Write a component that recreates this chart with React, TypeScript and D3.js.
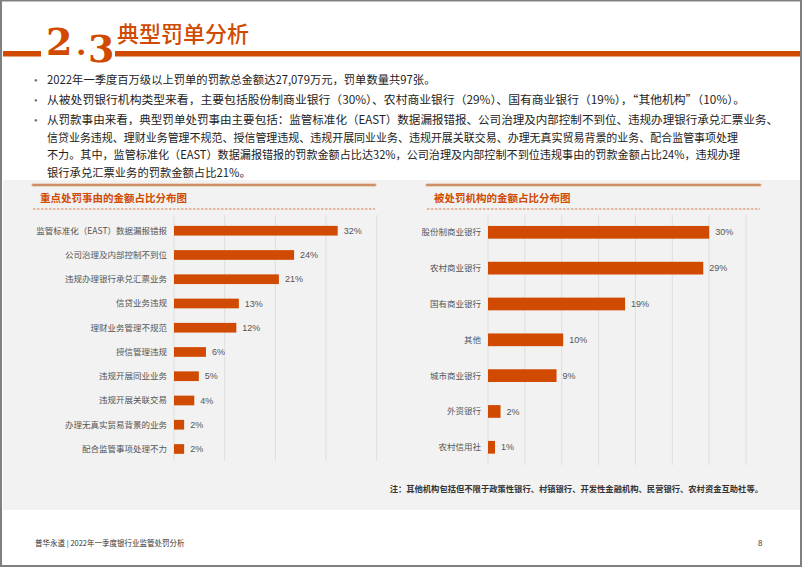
import React from "react";
import * as d3 from "d3";

const W = 802;
const H = 567;
const ORANGE = "#d04a02";
const CJK = "'Noto Sans CJK SC', 'Noto Sans', sans-serif";

// ---- data ----
const bullets = [
  ["2022年一季度百万级以上罚单的罚款总金额达27,079万元，罚单数量共97张。"],
  ["从被处罚银行机构类型来看，主要包括股份制商业银行（30%）、农村商业银行（29%）、国有商业银行（19%），“其他机构”（10%）。"],
  [
    "从罚款事由来看，典型罚单处罚事由主要包括：监管标准化（EAST）数据漏报错报、公司治理及内部控制不到位、违规办理银行承兑汇票业务、",
    "信贷业务违规、理财业务管理不规范、授信管理违规、违规开展同业业务、违规开展关联交易、办理无真实贸易背景的业务、配合监管事项处理",
    "不力。其中，监管标准化（EAST）数据漏报错报的罚款金额占比达32%，公司治理及内部控制不到位违规事由的罚款金额占比24%，违规办理",
    "银行承兑汇票业务的罚款金额占比21%。",
  ],
];
// end x of each wrapped line in the reference (null = natural width)
const lineEnds: (number | null)[][] = [[null], [745], [778, 738, 740, null]];

const reasonCategories = [
  "监管标准化（EAST）数据漏报错报",
  "公司治理及内部控制不到位",
  "违规办理银行承兑汇票业务",
  "信贷业务违规",
  "理财业务管理不规范",
  "授信管理违规",
  "违规开展同业业务",
  "违规开展关联交易",
  "办理无真实贸易背景的业务",
  "配合监管事项处理不力",
];
const reasonValues = [32.3, 23.7, 20.7, 12.8, 12.3, 6.3, 4.9, 4.0, 2.0, 2.0];
const reasonTicks = [0, 10, 20, 30, 40];

const instCategories = [
  "股份制商业银行",
  "农村商业银行",
  "国有商业银行",
  "其他",
  "城市商业银行",
  "外资银行",
  "农村信用社",
];
const instValues = [30.0, 29.2, 18.6, 10.2, 9.3, 1.7, 0.95];
const instTicks = [0, 5, 10, 15, 20, 25, 30, 35];

const leftTitle = "重点处罚事由的金额占比分布图";
const rightTitle = "被处罚机构的金额占比分布图";
const footnote = "注：其他机构包括但不限于政策性银行、村镇银行、开发性金融机构、民营银行、农村资金互助社等。";
const footerText = "普华永道 | 2022年一季度银行业监管处罚分析";
const pageNum = "8";

const pct = (v: number) => `${Math.round(v)}%`;

type ChartProps = {
  cats: string[];
  vals: number[];
  ticks: number[];
  x0: number;
  x1: number;
  y0: number;
  y1: number;
  gridTop: number;
  gridBottom: number;
  padding: number;
  title: string;
  headerX0: number;
  headerX1: number;
  titleX: number;
};

const HEADER_Y = 185;

function BarChart(p: ChartProps) {
  const x = d3.scaleLinear().domain([0, p.ticks[p.ticks.length - 1]]).range([p.x0, p.x1]);
  const y = d3
    .scaleBand<string>()
    .domain(p.cats)
    .range([p.y0, p.y1])
    .paddingInner(p.padding)
    .paddingOuter(p.padding / 2);
  return (
    <g>
      <line x1={p.headerX0} x2={p.headerX1} y1={HEADER_Y} y2={HEADER_Y} stroke="#e0b394" strokeWidth={3.2} strokeLinecap="round" />
      <line x1={p.headerX0} x2={p.headerX1} y1={HEADER_Y} y2={HEADER_Y} stroke="#c8835a" strokeWidth={1.3} strokeLinecap="round" />
      <text x={p.titleX} y={201.5} fill={ORANGE} fontSize={10.5} fontWeight="bold" fontFamily={CJK}>
        {p.title}
      </text>
      <line x1={p.headerX0} x2={p.headerX1} y1={209} y2={209} stroke="#e2773a" strokeWidth={1} strokeDasharray="2.5,1.5" />
      {p.ticks.map((t) => (
        <line key={t} x1={x(t)} x2={x(t)} y1={p.gridTop} y2={p.gridBottom} stroke="#dedede" strokeWidth={1} />
      ))}
      {p.cats.map((c, i) => {
        const yy = y(c)!;
        const bw = y.bandwidth();
        const cy = yy + bw / 2;
        return (
          <g key={c}>
            <rect x={x(0)} y={yy} width={x(p.vals[i]) - x(0)} height={bw} fill={ORANGE} />
            <text x={x(0) - 7} y={cy} dy="0.35em" textAnchor="end" fontSize={8.5} fill="#555" fontFamily={CJK}>
              {c}
            </text>
            <text x={x(p.vals[i]) + 6} y={cy} dy="0.35em" fontSize={9} fill="#555" fontFamily="'Liberation Sans', Arial, sans-serif">
              {pct(p.vals[i])}
            </text>
          </g>
        );
      })}
    </g>
  );
}

export default function App() {
  const lineYs = [[80], [100.5], [120.5, 138, 155.5, 173]];
  const TX = 47;
  return (
    <svg width={W} height={H} style={{ position: "absolute", left: 0, top: 0, background: "#fff" }}>
      <rect x={0} y={0} width={W} height={H} fill="#fff" />
      {/* title */}
      <rect x={3} y={51} width={38} height={5.5} fill={ORANGE} />
      <rect x={115} y={51} width={W - 115} height={5.5} fill={ORANGE} />
      <text x={46} y={55} fill={ORANGE} fontSize={38} fontWeight="bold" fontFamily="'DejaVu Serif', serif">2</text>
      <text x={76} y={55} fill={ORANGE} fontSize={30} fontWeight="bold" fontFamily="'DejaVu Serif', serif">.</text>
      <text x={88} y={62} fill={ORANGE} fontSize={38} fontWeight="bold" fontFamily="'DejaVu Serif', serif">3</text>
      <text x={117} y={42} fill={ORANGE} fontSize={22} fontFamily={CJK} fontWeight={500}>典型罚单分析</text>

      {/* bullets */}
      {bullets.map((para, pi) => (
        <g key={pi}>
          <text x={34} y={lineYs[pi][0]} dy="0.35em" fontSize={10} fill="#666">•</text>
          {para.map((ln, li) => {
            const end = lineEnds[pi][li];
            const extra = end != null ? { textLength: end - TX, lengthAdjust: "spacingAndGlyphs" } : {};
            return (
              <text key={li} x={TX} y={lineYs[pi][li]} dy="0.35em" fontSize={11.3} fill="#222" fontFamily={CJK} {...extra}>
                {ln}
              </text>
            );
          })}
        </g>
      ))}

      {/* panel */}
      <rect x={3} y={180} width={797} height={330} fill="#f2f2f2" />

      <BarChart
        cats={reasonCategories}
        vals={reasonValues}
        ticks={reasonTicks}
        x0={174}
        x1={376.7}
        y0={218.6}
        y1={461.1}
        gridTop={215}
        gridBottom={461}
        padding={0.6}
        title={leftTitle}
        headerX0={33}
        headerX1={375}
        titleX={40}
      />
      <BarChart
        cats={instCategories}
        vals={instValues}
        ticks={instTicks}
        x0={488}
        x1={746}
        y0={214.4}
        y1={465.2}
        gridTop={215}
        gridBottom={465}
        padding={0.645}
        title={rightTitle}
        headerX0={427}
        headerX1={760}
        titleX={434}
      />

      <text x={763} y={492} textAnchor="end" fontSize={8.3} fontWeight="bold" fill="#333" fontFamily={CJK}>
        {footnote}
      </text>

      {/* footer */}
      <text x={35} y={543} dy="0.35em" fontSize={7.5} fill="#333" fontFamily={CJK}>{footerText}</text>
      <text x={758} y={543} dy="0.35em" fontSize={8} fill="#333" fontFamily={CJK}>{pageNum}</text>

      {/* page border */}
      <rect x={1} y={0.5} width={W - 2} height={H - 1.5} fill="none" stroke="#808080" strokeWidth={2} />
    </svg>
  );
}
